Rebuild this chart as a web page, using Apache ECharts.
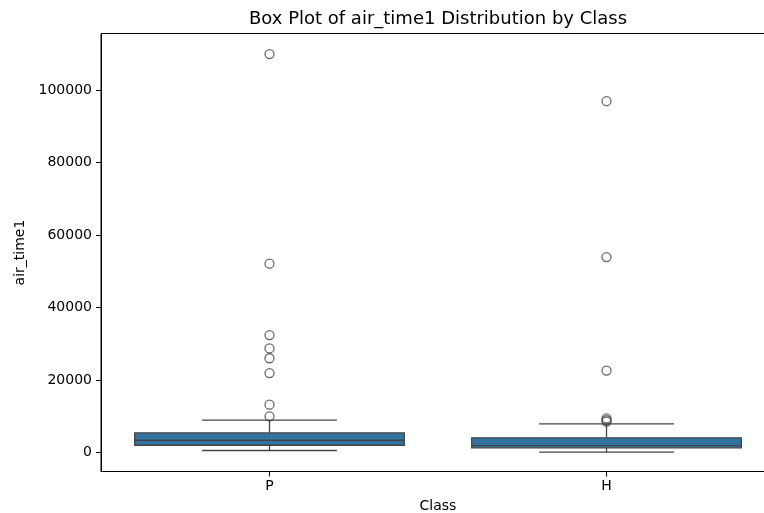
<!DOCTYPE html>
<html>
<head>
<meta charset="utf-8">
<script src="https://cdn.jsdelivr.net/npm/echarts@6/dist/echarts.min.js"></script>
<style>html,body{margin:0;padding:0;background:#fff}#c{width:764px;height:513px}</style>
</head>
<body>
<div id="c"></div>
<script>
// ---- data ----
const categories = ['P', 'H'];
// [whiskerLow, Q1, median, Q3, whiskerHigh]
const boxP = [549, 2005, 3379, 5412, 8950];
const boxH = [80, 1290, 1923, 4038, 7900];
const outliersP = [109900, 52100, 32400, 28700, 26000, 21900, 13200, 9980];
const outliersH = [96900, 53900, 22600, 9400, 8900, 8500];
const yTicks = [0, 20000, 40000, 60000, 80000, 100000];
const yMin = -5240;
const yMax = 115580;

const boxData = [boxP, boxH].map((b, i) => [i].concat(b));
const outlierData = [];
outliersP.forEach(v => outlierData.push([0, v]));
outliersH.forEach(v => outlierData.push([1, v]));

const LINE = '#444444';
const FILL = '#3274a1';
const FONT = 'DejaVu Sans';

const chart = echarts.init(document.getElementById('c'), null, {renderer: 'canvas'});
chart.setOption({
  animation: false,
  backgroundColor: '#ffffff',
  title: {
    text: 'Box Plot of air_time1 Distribution by Class',
    left: 438, top: 10, textAlign: 'center', padding: 0,
    textStyle: {fontFamily: FONT, fontSize: 18, fontWeight: 'normal', color: '#000'}
  },
  grid: {left: 101, top: 33.5, width: 674, height: 438, show: true,
         outerBoundsMode: 'none', containLabel: false,
         borderColor: '#000', borderWidth: 1, backgroundColor: 'transparent'},
  xAxis: {
    type: 'category', data: categories, boundaryGap: true,
    name: 'Class', nameLocation: 'middle', nameGap: 28,
    nameTextStyle: {fontFamily: FONT, fontSize: 14, color: '#000'},
    axisLine: {show: true, onZero: false, lineStyle: {color: '#000', width: 1}},
    axisTick: {show: true, alignWithLabel: true, length: 5, lineStyle: {color: '#000'}},
    axisLabel: {fontFamily: FONT, fontSize: 14, color: '#000', margin: 8},
    splitLine: {show: false}
  },
  yAxis: {
    type: 'value', min: yMin, max: yMax, splitNumber: 6,
    name: 'air_time1', nameLocation: 'middle', nameGap: 74, nameRotate: 90,
    nameTextStyle: {fontFamily: FONT, fontSize: 14, color: '#000'},
    axisLine: {show: true, onZero: false, lineStyle: {color: '#000', width: 1}},
    axisTick: {show: true, length: 5, lineStyle: {color: '#000'}, customValues: yTicks},
    axisLabel: {fontFamily: FONT, fontSize: 14, color: '#000', margin: 9,
                customValues: yTicks, formatter: v => String(v)},
    splitLine: {show: false}
  },
  series: [
    {
      type: 'custom',
      data: boxData,
      encode: {x: 0, y: [1, 2, 3, 4, 5]},
      renderItem: function (params, api) {
        const x = api.value(0);
        const lo = api.coord([x, api.value(1)]);
        const q1 = api.coord([x, api.value(2)]);
        const md = api.coord([x, api.value(3)]);
        const q3 = api.coord([x, api.value(4)]);
        const hi = api.coord([x, api.value(5)]);
        const band = api.size([1, 0])[0];
        const bw = band * 0.8;
        const cw = bw * 0.5;
        const cx = lo[0];
        const ls = {stroke: LINE, lineWidth: 1.3};
        return {
          type: 'group',
          children: [
            {type: 'line', shape: {x1: cx, y1: q3[1], x2: cx, y2: hi[1]}, style: ls},
            {type: 'line', shape: {x1: cx, y1: q1[1], x2: cx, y2: lo[1]}, style: ls},
            {type: 'line', shape: {x1: cx - cw / 2, y1: hi[1], x2: cx + cw / 2, y2: hi[1]}, style: ls},
            {type: 'line', shape: {x1: cx - cw / 2, y1: lo[1], x2: cx + cw / 2, y2: lo[1]}, style: ls},
            {type: 'rect', shape: {x: cx - bw / 2, y: q3[1], width: bw, height: q1[1] - q3[1]},
             style: {fill: FILL, stroke: LINE, lineWidth: 1.3}},
            {type: 'line', shape: {x1: cx - bw / 2, y1: md[1], x2: cx + bw / 2, y2: md[1]}, style: ls}
          ]
        };
      }
    },
    {
      type: 'scatter',
      data: outlierData,
      symbol: 'circle',
      symbolSize: 9,
      itemStyle: {color: 'rgba(0,0,0,0)', borderColor: LINE, borderWidth: 1.3},
      z: 3
    }
  ]
});
</script>
</body>
</html>
